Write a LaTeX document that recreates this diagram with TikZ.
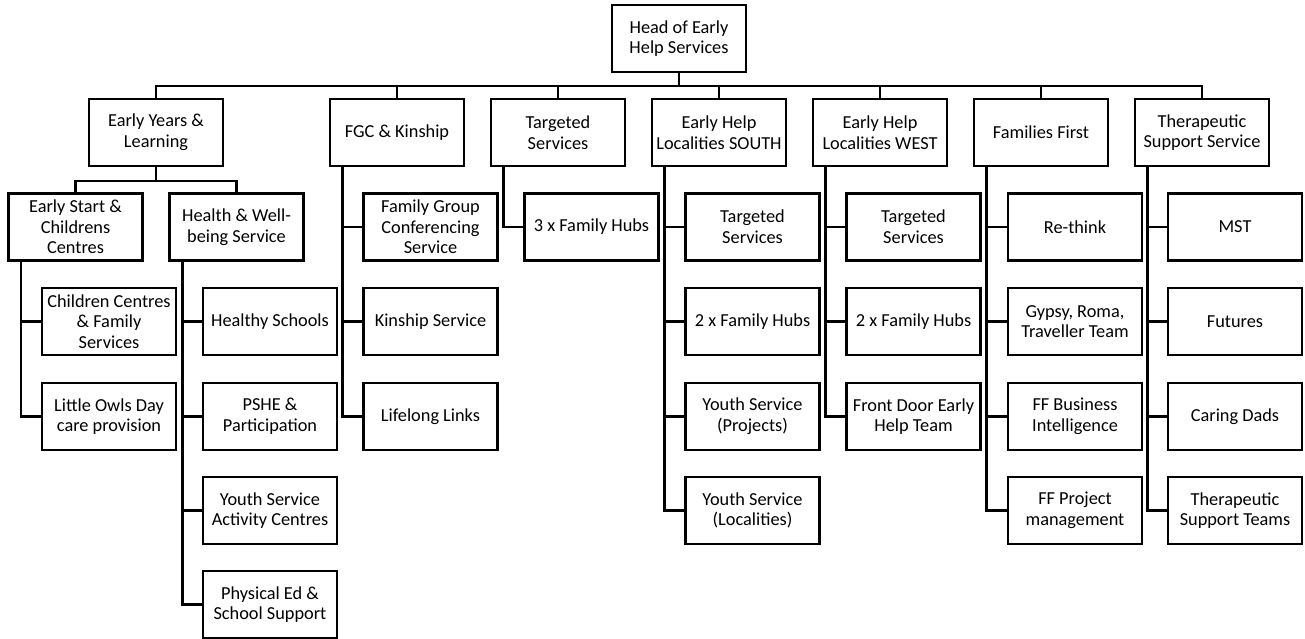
\documentclass[tikz,border=0pt]{standalone}
\usepackage{fontspec}
\setmainfont{Carlito}
\usepackage{tikz}

\begin{document}
\begin{tikzpicture}[x=0.65pt, y=-0.65pt, line width=1.7pt,
        box/.style={draw, rectangle, align=center, inner sep=1pt,
            minimum width=87.1pt, minimum height=43.55pt,
            font=\fontsize{11.9}{13.4}\selectfont}]
        \useasboundingbox (0,0) rectangle (1305,639);

        % head and first level
        \node[box] (head) at (679,38.5) {Head of Early\\Help Services};
        \coordinate (bus) at (679,86);

        \node[box] (eyl) at (156,132.5) {Early Years \&\\Learning};
        \node[box] (fgc) at (397,132.5) {FGC \& Kinship};
        \node[box] (tgt) at (558,132.5) {Targeted\\Services};
        \node[box] (south) at (719,132.5) {Early Help\\Localities SOUTH};
        \node[box] (west) at (880,132.5) {Early Help\\Localities WEST};
        \node[box] (ff) at (1041,132.5) {Families First};
        \node[box] (tss) at (1202,132.5) {Therapeutic\\Support Service};

        % early years split
        \coordinate (eybus) at (156,181);
        \node[box] (esc) at (75.5,227) {Early Start \&\\Childrens\\Centres};
        \node[box] (hws) at (236.5,227) {Health \& Well-\\being Service};

        % teams
        \node[box] (esc1) at (109,321.5) {Children Centres\\\& Family\\Services};
        \node[box] (esc2) at (109,416.5) {Little Owls Day\\care provision};

        \node[box] (hws1) at (270,321.5) {Healthy Schools};
        \node[box] (hws2) at (270,416.5) {PSHE \&\\Participation};
        \node[box] (hws3) at (270,510.5) {Youth Service\\Activity Centres};
        \node[box] (hws4) at (270,604.5) {Physical Ed \&\\School Support};

        \node[box] (fgc1) at (430.5,227) {Family Group\\Conferencing\\Service};
        \node[box] (fgc2) at (430.5,321.5) {Kinship Service};
        \node[box] (fgc3) at (430.5,416.5) {Lifelong Links};

        \node[box] (tgt1) at (591.5,227) {3 x Family Hubs};

        \node[box] (south1) at (752.5,227) {Targeted\\Services};
        \node[box] (south2) at (752.5,321.5) {2 x Family Hubs};
        \node[box] (south3) at (752.5,416.5) {Youth Service\\(Projects)};
        \node[box] (south4) at (752.5,510.5) {Youth Service\\(Localities)};

        \node[box] (west1) at (913.5,227) {Targeted\\Services};
        \node[box] (west2) at (913.5,321.5) {2 x Family Hubs};
        \node[box] (west3) at (913.5,416.5) {Front Door Early\\Help Team};

        \node[box] (ff1) at (1075,227) {Re-think};
        \node[box] (ff2) at (1075,321.5) {Gypsy, Roma,\\Traveller Team};
        \node[box] (ff3) at (1075,416.5) {FF Business\\Intelligence};
        \node[box] (ff4) at (1075,510.5) {FF Project\\management};

        \node[box] (tss1) at (1235,227) {MST};
        \node[box] (tss2) at (1235,321.5) {Futures};
        \node[box] (tss3) at (1235,416.5) {Caring Dads};
        \node[box] (tss4) at (1235,510.5) {Therapeutic\\Support Teams};

        % connectors
        \draw (head) -- (bus);
        \foreach \n in {eyl, fgc, tgt, south, west, ff, tss}
        \draw (bus) -| (\n.north);

        \draw (eyl) -- (eybus);
        \foreach \n in {esc, hws}
        \draw (eybus) -| (\n.north);

        \foreach \p/\c in {esc/esc1, esc/esc2, hws/hws1, hws/hws2, hws/hws3,
            hws/hws4, fgc/fgc1, fgc/fgc2, fgc/fgc3, tgt/tgt1,
            south/south1, south/south2, south/south3, south/south4,
            west/west1, west/west2, west/west3, ff/ff1, ff/ff2, ff/ff3,
            ff/ff4, tss/tss1, tss/tss2, tss/tss3, tss/tss4}
        \draw ([xshift=9.1pt]\p.south west) |- (\c.west);
    \end{tikzpicture}
\end{document}
